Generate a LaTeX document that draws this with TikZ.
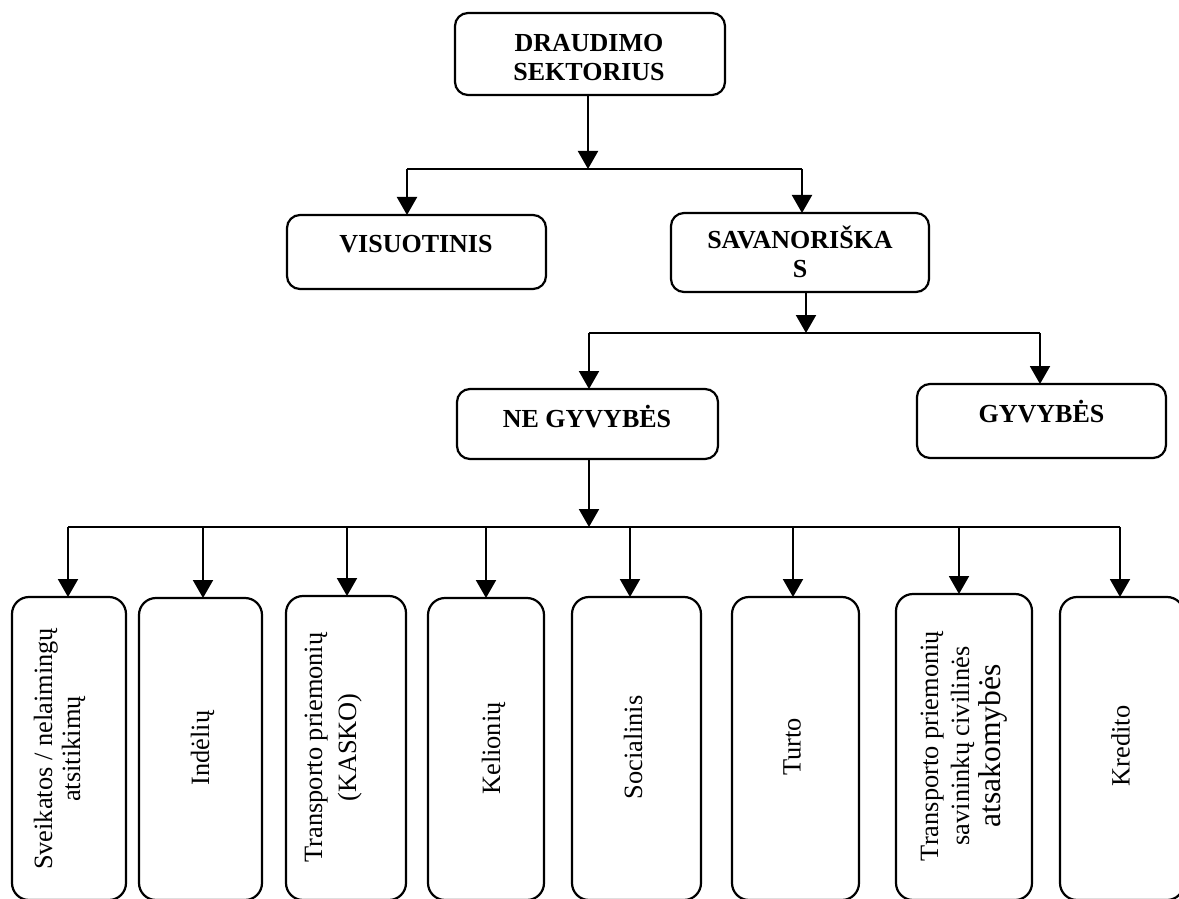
\documentclass[tikz,border=0pt]{standalone}
\usepackage{fontspec}
\setmainfont{Liberation Serif}
\usetikzlibrary{arrows.meta}
\begin{document}
\begin{tikzpicture}[x=0.5pt,y=-0.5pt,
  box/.style={draw, line width=1.1pt, rounded corners=6.5pt, inner sep=0pt, outer sep=0pt},
  tallbox/.style={draw, line width=1.1pt, rounded corners=8.5pt, inner sep=0pt, outer sep=0pt},
  title/.style={font=\fontsize{13pt}{14.5pt}\selectfont\bfseries, align=center, inner sep=0pt, outer sep=0pt, anchor=base},
  kind/.style={font=\fontsize{13.2pt}{14pt}\selectfont, align=center, inner sep=0pt, outer sep=0pt, rotate=90, anchor=base},
  link/.style={line width=1pt},
  arr/.style={link, -{Triangle[width=10pt,length=9pt]}},
]
\useasboundingbox (0,0) rectangle (1179,899);

% upper levels (text nodes are anchored on the baseline of their last line)
\node[box, minimum width=135pt, minimum height=41pt] (top) at (590,54) {};
\node[title] (topT) at (589,81) {DRAUDIMO\\SEKTORIUS};

\node[box, minimum width=129.5pt, minimum height=37pt] (vis) at (416.5,252) {};
\node[title] (visT) at (416,252) {VISUOTINIS};

\node[box, minimum width=129pt, minimum height=39.5pt] (sav) at (800,252.5) {};
\node[title] (savT) at (800,278) {SAVANORIŠKA\\S};

\node[box, minimum width=130.5pt, minimum height=35pt] (ne) at (587.5,424) {};
\node[title] (neT) at (587,427) {NE GYVYBĖS};

\node[box, minimum width=124.5pt, minimum height=37pt] (gyv) at (1041.5,421) {};
\node[title] (gyvT) at (1041.5,422) {GYVYBĖS};

% lower level: kinds of non-life insurance
\node[tallbox, minimum width=57pt,   minimum height=151.5pt] (k1) at (69,748.5) {};
\node[tallbox, minimum width=61.5pt, minimum height=151pt]   (k2) at (200.5,749) {};
\node[tallbox, minimum width=60pt,   minimum height=152pt]   (k3) at (346,748) {};
\node[tallbox, minimum width=58pt,   minimum height=151pt]   (k4) at (486,749) {};
\node[tallbox, minimum width=64.5pt, minimum height=151.5pt] (k5) at (636.5,748.5) {};
\node[tallbox, minimum width=63.5pt, minimum height=151.5pt] (k6) at (795.5,748.5) {};
\node[tallbox, minimum width=68pt,   minimum height=153pt]   (k7) at (964,747) {};
\node[tallbox, minimum width=62pt,   minimum height=151.5pt] (k8) at (1122,748.5) {};

\node[kind] (k1T) at (80,749) {Sveikatos / nelaimingų\\atsitikimų};
\node[kind] (k2T) at (209,748) {Indėlių};
\node[kind, font=\fontsize{13.2pt}{17pt}\selectfont] (k3T) at (356,747.5) {Transporto priemonių\\(KASKO)};
\node[kind] (k4T) at (500,748.5) {Kelionių};
\node[kind] (k5T) at (642,747.5) {Socialinis};
\node[kind] (k6T) at (800.5,747) {Turto};
\node[kind, font=\fontsize{13.2pt}{15.5pt}\selectfont] (k7T) at (1000,746)
  {Transporto priemonių\\savininkų civilinės\\{\fontsize{15.8pt}{16pt}\selectfont atsakomybės}};
\node[kind] (k8T) at (1129.5,746) {Kredito};

% connectors
\coordinate (j1) at (588,169);
\coordinate (j1l) at (407,169);
\coordinate (j1r) at (802,169);
\draw[arr] (j1 |- top.south) -- (j1);
\draw[link] (j1l) -- (j1r);
\draw[arr] (j1l) -- (j1l |- vis.north);
\draw[arr] (j1r) -- (j1r |- sav.north);

\coordinate (j2) at (806,333);
\coordinate (j2l) at (589,333);
\coordinate (j2r) at (1040,333);
\draw[arr] (j2 |- sav.south) -- (j2);
\draw[link] (j2l) -- (j2r);
\draw[arr] (j2l) -- (j2l |- ne.north);
\draw[arr] (j2r) -- (j2r |- gyv.north);

\coordinate (j3) at (589,527);
\coordinate (j3l) at (68,527);
\coordinate (j3r) at (1120,527);
\draw[arr] (j3 |- ne.south) -- (j3);
\draw[link] (j3l) -- (j3r);
\foreach \x/\n in {68/k1, 203/k2, 347/k3, 486/k4, 630/k5, 793/k6, 959/k7, 1120/k8} {
  \coordinate (d\n) at (\x,527);
  \draw[arr] (d\n) -- (d\n |- \n.north);
}
\end{tikzpicture}
\end{document}
